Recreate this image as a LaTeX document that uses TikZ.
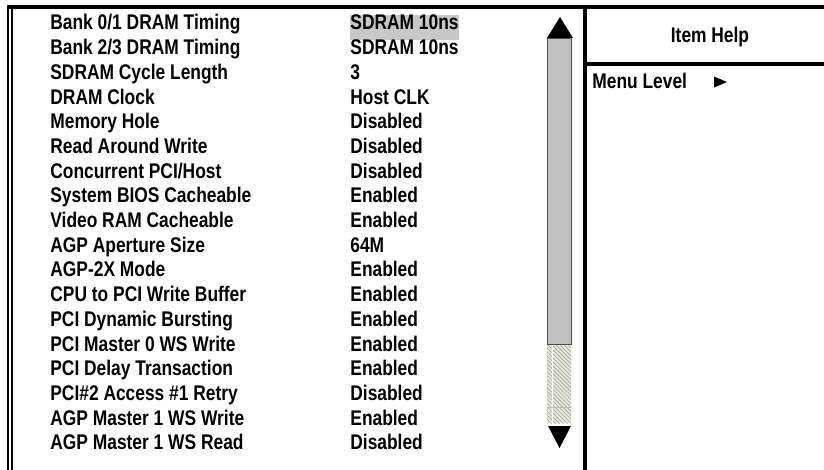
\documentclass[tikz,border=0pt]{standalone}
\usepackage{fontspec}
\setmainfont{Liberation Sans}[FakeStretch=0.82]
\usetikzlibrary{positioning,patterns.meta}

\definecolor{selgray}{RGB}{200,200,200}
\definecolor{bargray}{RGB}{192,192,192}
\definecolor{hatchbg}{RGB}{232,232,226}
\definecolor{hatchln}{RGB}{160,160,150}

\tikzset{
  item/.style={font=\fontsize{10.6pt}{12pt}\selectfont\bfseries, inner sep=0pt,
    text height=7.5pt, text depth=2pt, anchor=west},
  nextrow/.style={item, below=2.45pt of #1.south west, anchor=north west},
  frameline/.style={line width=#1, black},
}

\begin{document}
\begin{tikzpicture}[x=0.5pt,y=-0.5pt]
  \useasboundingbox (0,0) rectangle (824,470);

  % frame and panels
  \draw[frameline=2.25pt] (7,7) -- (824,7);
  \draw[frameline=1.2pt] (8.2,4.75) -- (8.2,470);
  \draw[frameline=1pt] (11.8,9.25) -- (11.8,470);
  \draw[frameline=1.75pt] (585,9) -- (585,470);
  \draw[frameline=1.75pt] (585,64) -- (824,64);

  % selected value
  \fill[selgray] (350,15) rectangle (459,40);

  % labels
  \node[item] (L1) at (50,24.5) {Bank 0/1 DRAM Timing};
  \node[nextrow=L1] (L2) {Bank 2/3 DRAM Timing};
  \node[nextrow=L2] (L3) {SDRAM Cycle Length};
  \node[nextrow=L3] (L4) {DRAM Clock};
  \node[nextrow=L4] (L5) {Memory Hole};
  \node[nextrow=L5] (L6) {Read Around Write};
  \node[nextrow=L6] (L7) {Concurrent PCI/Host};
  \node[nextrow=L7] (L8) {System BIOS Cacheable};
  \node[nextrow=L8] (L9) {Video RAM Cacheable};
  \node[nextrow=L9] (L10) {AGP Aperture Size};
  \node[nextrow=L10] (L11) {AGP-2X Mode};
  \node[nextrow=L11] (L12) {CPU to PCI Write Buffer};
  \node[nextrow=L12] (L13) {PCI Dynamic Bursting};
  \node[nextrow=L13] (L14) {PCI Master 0 WS Write};
  \node[nextrow=L14] (L15) {PCI Delay Transaction};
  \node[nextrow=L15] (L16) {PCI\#2 Access \#1 Retry};
  \node[nextrow=L16] (L17) {AGP Master 1 WS Write};
  \node[nextrow=L17] (L18) {AGP Master 1 WS Read};

  % values
  \node[item] (V1) at (350,24.5) {SDRAM 10ns};
  \node[nextrow=V1] (V2) {SDRAM 10ns};
  \node[nextrow=V2] (V3) {3};
  \node[nextrow=V3] (V4) {Host CLK};
  \node[nextrow=V4] (V5) {Disabled};
  \node[nextrow=V5] (V6) {Disabled};
  \node[nextrow=V6] (V7) {Disabled};
  \node[nextrow=V7] (V8) {Enabled};
  \node[nextrow=V8] (V9) {Enabled};
  \node[nextrow=V9] (V10) {64M};
  \node[nextrow=V10] (V11) {Enabled};
  \node[nextrow=V11] (V12) {Enabled};
  \node[nextrow=V12] (V13) {Enabled};
  \node[nextrow=V13] (V14) {Enabled};
  \node[nextrow=V14] (V15) {Enabled};
  \node[nextrow=V15] (V16) {Disabled};
  \node[nextrow=V16] (V17) {Enabled};
  \node[nextrow=V17] (V18) {Disabled};

  % scroll bar
  \fill[hatchbg] (547,344) rectangle (571,423);
  \fill[pattern={Lines[angle=-45,distance=1.4pt,line width=0.3pt]}, pattern color=hatchln]
    (547,344) rectangle (571,423);
  \draw[white, line width=0.5pt] (552,344) -- (552,423);
  \draw[hatchln!70, line width=0.3pt] (547,407) -- (571,407);
  \filldraw[fill=bargray, draw=black!70, line width=0.5pt] (547,39) rectangle (571,344);
  \fill (547,38) -- (573,38) -- (560,17) -- cycle;
  \fill (548,426) -- (571,426) -- (559.5,448) -- cycle;

  % help panel
  \node[item, anchor=center] (Help) at (710,37) {Item Help};
  \node[item] (Menu) at (592,83.5) {Menu Level};
  \fill (714,76.5) -- (727,82) -- (714,87.5) -- cycle;
\end{tikzpicture}
\end{document}
